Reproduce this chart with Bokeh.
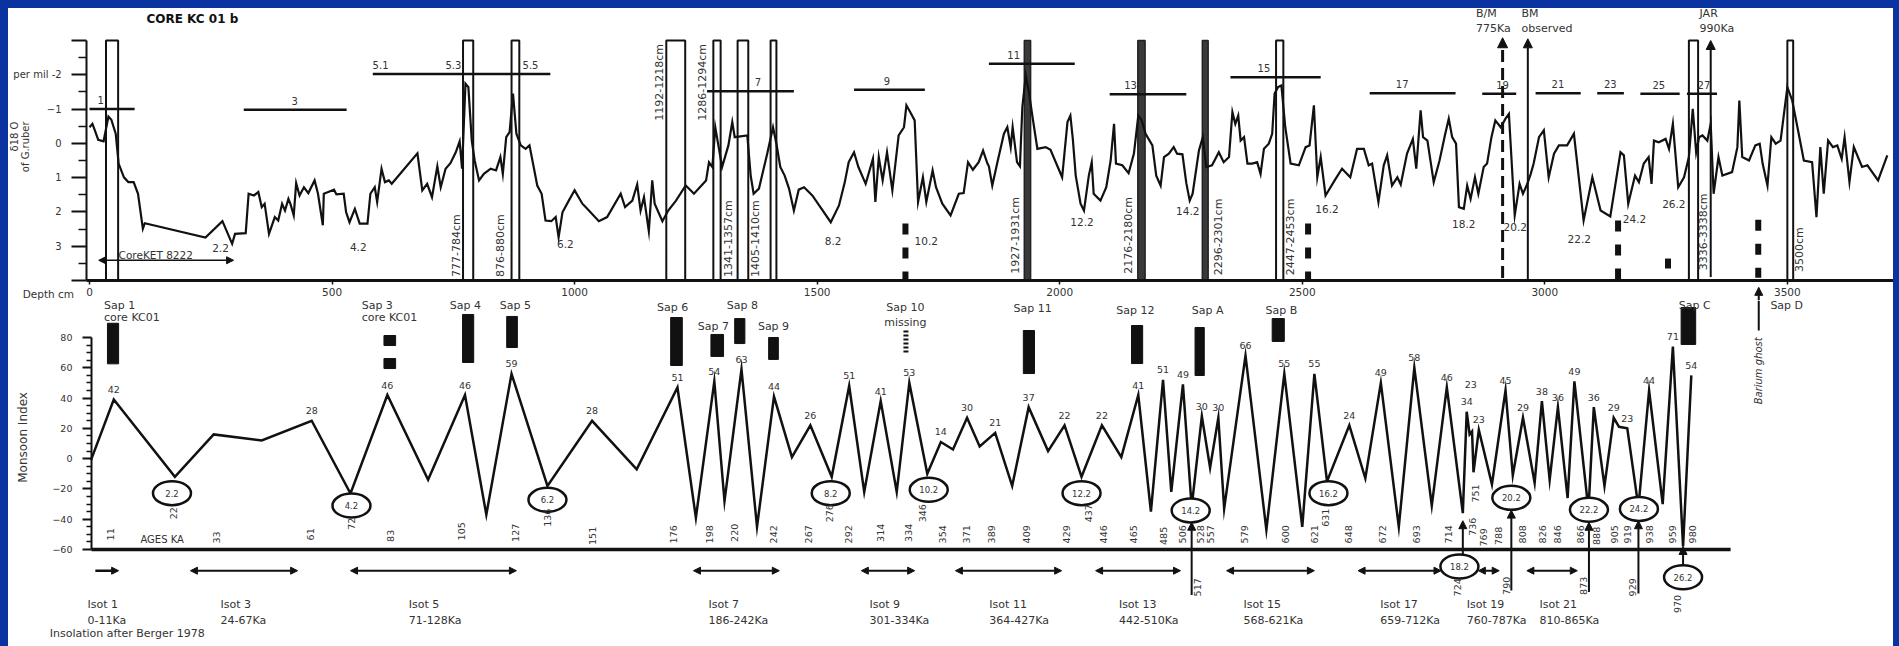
from math import pi
from bokeh.plotting import figure
from bokeh.layouts import column
from bokeh.models import (Range1d, FixedTicker, ColumnDataSource, Arrow, NormalHead,
                          LinearAxis)
from bokeh.embed import file_html
from bokeh.resources import INLINE
from bokeh.core.properties import value

FONT = "DejaVu Sans"
INK = "#111111"
TXT = "#333333"
BLUE = "#0a32a0"

# ---------------- top panel : delta 18 O of G. ruber versus core depth ----------------
d18o_depth = [
    0, 6, 11, 18, 29, 39, 45, 54, 60, 71,
    80, 91, 100, 110, 114, 239, 274, 294, 300, 322,
    328, 339, 348, 355, 361, 370, 382, 389, 397, 403,
    410, 414, 421, 426, 433, 442, 451, 464, 471, 481,
    483, 492, 504, 509, 524, 529, 536, 547, 557, 573,
    579, 588, 593, 602, 609, 617, 623, 676, 686, 696,
    706, 717, 724, 734, 744, 755, 763, 768, 775, 781,
    788, 794, 803, 813, 827, 838, 847, 852, 859, 866,
    873, 880, 889, 899, 907, 923, 932, 940, 952, 961,
    967, 975, 988, 1000, 1016, 1026, 1050, 1067, 1095, 1104,
    1119, 1129, 1136, 1143, 1153, 1160, 1165, 1181, 1193, 1209,
    1229, 1239, 1246, 1271, 1277, 1284, 1290, 1297, 1304, 1317,
    1325, 1330, 1356, 1363, 1369, 1380, 1397, 1409, 1416, 1424,
    1433, 1442, 1452, 1462, 1473, 1490, 1528, 1545, 1557, 1565,
    1576, 1585, 1600, 1615, 1620, 1627, 1635, 1644, 1655, 1668,
    1679, 1684, 1692, 1701, 1708, 1718, 1725, 1738, 1745, 1758,
    1775, 1792, 1802, 1811, 1821, 1833, 1842, 1851, 1854, 1861,
    1871, 1885, 1892, 1899, 1903, 1912, 1918, 1923, 1930, 1936,
    1945, 1954, 1971, 1981, 2005, 2016, 2022, 2027, 2033, 2043,
    2050, 2060, 2066, 2070, 2084, 2096, 2105, 2112, 2116, 2129,
    2142, 2153, 2162, 2169, 2177, 2191, 2199, 2208, 2215, 2225,
    2235, 2242, 2253, 2261, 2268, 2274, 2287, 2295, 2302, 2314,
    2328, 2338, 2349, 2356, 2362, 2368, 2373, 2380, 2387, 2397,
    2407, 2414, 2421, 2431, 2438, 2443, 2450, 2457, 2465, 2476,
    2493, 2507, 2515, 2524, 2531, 2538, 2548, 2569, 2582, 2599,
    2613, 2627, 2637, 2644, 2657, 2668, 2675, 2685, 2696, 2703,
    2716, 2728, 2735, 2744, 2749, 2758, 2771, 2783, 2794, 2802,
    2809, 2817, 2823, 2833, 2840, 2847, 2856, 2863, 2874, 2881,
    2890, 2898, 2909, 2919, 2926, 2938, 2948, 2955, 2964, 2971,
    2977, 2988, 2998, 3008, 3019, 3029, 3046, 3060, 3070, 3080,
    3098, 3115, 3135, 3156, 3163, 3172, 3186, 3194, 3204, 3214,
    3220, 3225, 3235, 3249, 3256, 3264, 3275, 3287, 3297, 3305,
    3312, 3318, 3325, 3335, 3342, 3348, 3358, 3366, 3386, 3397,
    3401, 3407, 3421, 3434, 3443, 3449, 3459, 3467, 3476, 3486,
    3500, 3510, 3522, 3534, 3551, 3560, 3568, 3575, 3584, 3594,
    3603, 3612, 3618, 3628, 3637, 3654, 3665, 3687, 3706,
]
d18o_value = [
    -0.47, -0.57, -0.38, -0.10, -0.06, -0.78, -0.69, -0.28, 0.59, 0.99,
    1.13, 1.13, 1.47, 2.49, 2.33, 2.75, 2.27, 2.93, 2.64, 2.62,
    1.47, 1.52, 1.42, 1.86, 1.76, 2.64, 2.15, 2.25, 1.76, 1.96,
    1.62, 1.76, 2.10, 1.16, 1.52, 1.28, 1.45, 1.08, 1.47, 2.39,
    1.47, 1.42, 1.35, 1.49, 1.47, 2.01, 2.30, 1.91, 2.34, 2.34,
    1.47, 1.28, 1.71, 0.74, 1.13, 1.08, 1.18, 0.29, 1.37, 1.18,
    1.57, 0.67, 1.28, 0.74, 0.58, 0.26, -0.06, 0.74, -1.74, -1.64,
    -0.08, 0.50, 1.08, 0.89, 0.74, 0.79, 0.40, 0.89, -0.18, -0.33,
    -1.45, -0.28, 0.06, 0.16, 0.06, 1.23, 1.47, 2.25, 2.27, 2.15,
    2.74, 2.01, 1.67, 1.37, 1.76, 1.91, 2.27, 2.15, 1.47, 1.86,
    1.67, 1.20, 1.96, 1.57, 2.56, 1.08, 1.76, 2.27, 1.96, 1.67,
    1.23, 1.37, 1.47, 1.08, 0.55, 0.69, -0.47, 0.11, 0.69, 0.06,
    -0.62, -0.18, -0.23, 0.94, 1.47, 1.32, 0.30, -0.47, 0.01, 0.69,
    0.94, 1.32, 1.96, 1.35, 1.28, 1.52, 2.30, 1.81, 1.13, 0.55,
    0.26, 0.69, 1.18, 0.45, 1.71, 0.40, 1.08, 0.26, 1.37, -0.23,
    -0.47, -1.11, -0.91, -0.67, 1.71, 0.99, 1.71, 0.79, 1.28, 1.76,
    2.10, 1.47, 1.45, 0.55, 0.77, 0.55, 0.21, 0.59, 0.67, 1.23,
    0.59, -0.28, -0.47, 0.11, -0.47, 0.55, 0.67, -1.06, -1.98, -1.54,
    -0.67, 0.16, 0.11, 0.19, 0.99, -0.62, -0.81, -0.13, 0.94, 1.76,
    1.96, 0.94, 0.55, 1.47, 1.67, 1.28, 0.50, -0.57, 0.59, 0.64,
    0.87, 0.30, -0.81, -0.67, -0.28, 0.06, 0.94, 1.23, 0.40, 0.30,
    0.11, 0.30, 0.32, 1.16, 1.67, 1.47, 0.21, -0.18, 0.69, 0.64,
    0.26, 0.55, 0.40, -0.91, -0.57, -0.81, -0.08, -0.18, 0.59, 0.59,
    0.55, 0.89, 0.16, 0.01, -0.28, -1.45, -1.64, -1.69, -0.47, 0.59,
    0.64, 0.11, 0.06, -1.11, 0.99, 0.40, 1.52, 1.03, 0.74, 0.99,
    0.16, 0.16, 0.64, 0.59, 1.71, 0.64, 0.35, 1.23, 0.99, 1.20,
    0.30, -0.13, 0.74, -0.96, -0.18, -0.08, 1.13, 0.50, -0.23, -0.72,
    -0.18, 0.01, 1.86, 1.91, 1.23, 1.62, 0.99, 1.47, 0.69, 0.59,
    -0.18, -0.67, -0.47, -0.72, -0.86, 2.10, 1.18, 1.47, 1.18, 0.89,
    0.59, -0.18, -0.38, 0.99, 0.30, 0.06, 0.06, -0.28, 0.99, 2.25,
    0.99, 1.96, 2.13, 0.26, 0.35, 1.76, 0.94, 1.13, 0.59, 0.40,
    1.18, -0.08, -0.03, -0.13, 0.16, -0.57, 1.28, 0.99, 0.40, -1.01,
    0.26, -0.18, -0.23, -0.08, -0.57, 1.47, 0.40, 0.94, 0.84, 0.11,
    -1.25, 0.40, 0.50, 0.06, 0.01, 0.59, 1.23, -0.18, 0.01, -0.08,
    -1.64, -1.25, -0.38, 0.50, 0.55, 2.15, 0.11, 1.47, -0.08, 0.11,
    0.06, 0.45, -0.18, 1.13, 0.11, 0.69, 0.64, 1.08, 0.35,
]
depth_ticks = [0, 500, 1000, 1500, 2000, 2500, 3000, 3500]
d18o_ticks = [-3, -2, -1, 0, 1, 2, 3, 4]
d18o_minor = [-2.5, -1.5, -0.5, 0.5, 1.5, 2.5, 3.5]

# sampled intervals (cm)
sample_lo = [34, 770, 870, 1189, 1286, 1336, 1404, 1927, 2161, 2294, 2446, 3297, 3500]
sample_hi = [59, 791, 886, 1228, 1301, 1358, 1416, 1940, 2176, 2306, 2461, 3316, 3512]
sample_dark = [False, False, False, False, False, False, False, True, True, True, False, False, False]
low_interval_text = ["777-784cm", "876-880cm", "1341-1357cm", "1405-1410cm", "1927-1931cm",
                     "2176-2180cm", "2296-2301cm", "2447-2453cm", "3336-3338cm", "3500cm"]
low_interval_depth = [757, 847, 1318, 1373, 1909, 2142, 2327, 2476, 3328, 3524]
low_interval_foot = [3.9, 3.9, 3.9, 3.9, 3.8, 3.8, 3.85, 3.85, 3.7, 3.75]
high_interval_text = ["1192-1218cm", "1286-1294cm"]
high_interval_depth = [1175, 1263]
high_interval_head = [-2.9, -2.9]

# interglacial isotope stages (horizontal bars)
stage_lo = [0, 318, 584, 1273, 1576, 1854, 2103, 2352, 2639, 2871, 2981, 3108, 3197, 3293]
stage_hi = [93, 530, 950, 1452, 1722, 2031, 2261, 2538, 2816, 2941, 3074, 3163, 3278, 3355]
stage_level = [-1.0, -0.98, -2.02, -1.52, -1.56, -2.32, -1.43, -1.93, -1.46, -1.45, -1.46,
               -1.46, -1.45, -1.45]
stage_text = ["1", "3", "5.1", "5.3", "5.5", "7", "9", "11", "13", "15", "17", "19", "21",
              "23", "25", "27"]
stage_text_depth = [23, 423, 600, 750, 909, 1378, 1644, 1905, 2146, 2421, 2706, 2913, 3027,
                    3135, 3235, 3328]
stage_text_level = [-1.0, -0.98, -2.02, -2.02, -2.02, -1.52, -1.56, -2.32, -1.43, -1.93,
                    -1.46, -1.45, -1.46, -1.46, -1.45, -1.45]

# glacial stages
glacial_text = ["2.2", "4.2", "6.2", "8.2", "10.2", "12.2", "14.2", "16.2", "18.2", "20.2",
                "22.2", "24.2", "26.2"]
glacial_depth = [270, 554, 981, 1533, 1725, 2046, 2264, 2551, 2833, 2939, 3071, 3185, 3266]
glacial_level = [3.06, 3.01, 2.93, 2.85, 2.85, 2.30, 1.96, 1.91, 2.34, 2.44, 2.78, 2.20, 1.76]

# dashed black columns
mark_depth = [1682, 2512, 3151, 3254, 3440]
mark_top = [2.34, 2.34, 2.25, 3.36, 2.23]
mark_bottom = [4.0, 4.0, 4.0, 3.65, 3.92]

# magnetic reversals and other top-panel arrows
bm_depth = 2913
bm_observed_depth = 2965
jar_depth = 3342
corekt_span = [19, 297]

# ---------------- bottom panel : monsoon index ----------------
mi_depth = [
    3, 50, 176, 256, 355, 458, 538, 614, 698, 774,
    818, 870, 944, 1036, 1128, 1212, 1250, 1288, 1309, 1344,
    1376, 1411, 1448, 1486, 1530, 1566, 1597, 1631, 1664, 1690,
    1727, 1755, 1780, 1809, 1835, 1867, 1902, 1936, 1976, 2010,
    2045, 2087, 2127, 2162, 2188, 2213, 2230, 2254, 2272, 2293,
    2310, 2327, 2339, 2383, 2426, 2463, 2500, 2525, 2551, 2597,
    2630, 2662, 2699, 2731, 2767, 2798, 2831, 2839, 2845, 2850,
    2853, 2864, 2891, 2919, 2934, 2955, 2979, 2994, 3010, 3027,
    3047, 3061, 3090, 3101, 3123, 3142, 3153, 3170, 3193, 3215,
    3243, 3264, 3285, 3302,
]
mi_value = [
    -1, 39, -12, 16, 12, 25, -23, 42, -14, 42,
    -37, 56, -18, 25, -7, 47, -39, 51, -28, 59,
    -45, 41, 1, 22, -12, 48, -22, 38, -22, 50,
    -10, 11, 6, 27, 8, 17, -18, 34, 5, 22,
    -12, 22, 1, 42, -35, 52, -22, 49, -32, 28,
    -6, 27, -33, 68, -47, 56, -45, 56, -15, 22,
    -13, 50, -45, 60, -31, 47, -36, 31, 16, 18,
    -9, 19, -17, 45, -11, 27, -16, 38, -14, 34,
    -26, 51, -34, 34, -18, 27, 21, 20, -32, 45,
    -30, 74, -58, 55,
]
mi_ticks = [-60, -40, -20, 0, 20, 40, 60, 80]
mi_minor = [-55, -50, -45, -35, -30, -25, -15, -10, -5, 5, 10, 15, 25, 30, 35, 45, 50, 55,
            65, 70, 75]
baseline_extent = [4, 3383]

peak_idx = [1, 5, 7, 9, 11, 13, 15, 17, 19, 21, 23, 25, 27, 29, 31, 33, 35, 37, 39, 41,
            43, 45, 47, 49, 51, 53, 55, 57, 59, 61, 63, 65, 67, 71, 73, 75, 77, 79, 81, 83,
            85, 87, 89, 91, 93]
peak_text = ["42", "28", "46", "46", "59", "28", "51", "54", "63", "44",
             "26", "51", "41", "53", "14", "30", "21", "37", "22", "22",
             "41", "51", "49", "30", "30", "66", "55", "55", "24", "49",
             "58", "46", "34", "23", "45", "29", "38", "36", "49", "36",
             "29", "23", "44", "71", "54"]
extra_peak_idx = [67]
extra_peak_text = ["23"]

age_text = ["11", "22", "33", "61", "72", "83", "105", "127", "136", "151", "176", "198",
            "220", "242", "267", "276", "292", "314", "334", "346", "354", "371", "389",
            "409", "429", "437", "446", "465", "485", "506", "517", "528", "557", "579",
            "600", "621", "631", "648", "672", "693", "714", "724", "736", "751", "769",
            "788", "790", "808", "826", "846", "866", "873", "888", "905", "919", "929",
            "938", "959", "970", "980"]
age_depth = [43, 173, 262, 456, 540, 620, 767, 878, 944, 1037, 1204, 1278,
             1330, 1410, 1483, 1525, 1565, 1631, 1688, 1717, 1758, 1808, 1859,
             1932, 2014, 2059, 2091, 2152, 2214, 2253, 2284, 2290, 2310, 2381,
             2465, 2525, 2547, 2595, 2665, 2735, 2801, 2820, 2850, 2858, 2873,
             2904, 2920, 2953, 2996, 3026, 3073, 3079, 3106, 3143, 3170, 3180,
             3215, 3263, 3273, 3304]
age_level = [-50, -36, -52, -50, -43, -51, -48, -49, -39, -51, -50, -50,
             -49, -50, -50, -36, -50, -49, -49, -36, -50, -50, -50,
             -50, -50, -36, -50, -50, -51, -50, -85, -50, -50, -50,
             -50, -50, -39, -50, -50, -50, -50, -85, -45, -23, -52,
             -51, -84, -50, -50, -50, -50, -84, -51, -50, -50, -85,
             -50, -50, -96, -50]

ellipse_text = ["2.2", "4.2", "6.2", "8.2", "10.2", "12.2", "14.2", "16.2", "18.2", "20.2",
                "22.2", "24.2", "26.2"]
ellipse_depth = [170, 540, 944, 1528, 1730, 2045, 2270, 2554, 2824, 2931, 3091, 3194, 3285]
ellipse_level = [-22.8, -31, -27.2, -22.8, -20.6, -22.8, -34.2, -22.8, -71.2, -25.9, -33.8,
                 -33.2, -78.3]

up_arrow_depth = [2272, 2831, 2931, 3091, 3193, 3285]
up_arrow_from = [-90, -63, -87, -88, -89, -70]
up_arrow_to = [-42, -41, -34, -42, -41, -58]

# black sample bars
bar_lo = [37, 769, 860, 1198, 1281, 1330, 1400, 1925, 2148, 2279, 2438, 3281, 607, 607]
bar_hi = [60, 792, 882, 1222, 1307, 1351, 1420, 1948, 2171, 2298, 2463, 3311, 631, 631]
bar_top = [89.4, 95.2, 93.9, 93.2, 82, 92.5, 80, 84.6, 87.9, 86.6, 92.5, 99.8, 81.3, 66.1]
bar_bottom = [62.6, 63.5, 73.4, 61.5, 67.5, 76, 65.5, 56.2, 62.8, 54.9, 77.4, 75.4, 74.7, 59.5]
missing_depth = [1683]
missing_span = [70.1, 84.6]

sap_left_text = ["Sap 1", "core KC01", "Sap 3", "core KC01", "Sap D"]
sap_left_depth = [30, 30, 561, 561, 3465]
sap_left_level = [101.1, 93.2, 101.1, 93.2, 101.1]
sap_text = ["Sap 4", "Sap 5", "Sap 6", "Sap 7", "Sap 8", "Sap 9", "Sap 10", "missing",
            "Sap 11", "Sap 12", "Sap A", "Sap B", "Sap C"]
sap_depth = [775, 878, 1202, 1286, 1346, 1410, 1682, 1682, 1944, 2156, 2305, 2457, 3309]
sap_level = [101.1, 101.1, 99.8, 87.3, 101.1, 87.3, 99.8, 89.9, 99.2, 97.8, 97.8, 97.8, 101.1]

isot_name = ["Isot 1", "Isot 3", "Isot 5", "Isot 7", "Isot 9", "Isot 11", "Isot 13",
             "Isot 15", "Isot 17", "Isot 19", "Isot 21"]
isot_range = ["0-11Ka", "24-67Ka", "71-128Ka", "186-242Ka", "301-334Ka", "364-427Ka",
              "442-510Ka", "568-621Ka", "659-712Ka", "760-787Ka", "810-865Ka"]
isot_lo = [12, 208, 538, 1245, 1591, 1785, 2074, 2344, 2615, 2863, 2963]
isot_hi = [60, 429, 880, 1422, 1701, 2004, 2249, 2525, 2786, 2906, 3067]
isot_text_depth = [-4, 270, 658, 1276, 1608, 1855, 2122, 2379, 2661, 2839, 2989]
isot_arrow_level = -74.0
isot_name_level = -96.3
isot_range_level = -106.9

barium_depth = 3441
barium_span = [84.6, 104.4]


def add_text(p, xs, ys, texts, size="11px", align="center", baseline="middle", angle=0.0,
             color=TXT, style="normal", x_offset=0, y_offset=0):
    src = ColumnDataSource(data=dict(x=list(xs), y=list(ys), t=list(texts)))
    p.text(x="x", y="y", text="t", source=src, text_font=value(FONT),
           text_font_size=value(size), text_align=align, text_baseline=baseline,
           angle=angle, text_color=color, text_font_style=style,
           x_offset=x_offset, y_offset=y_offset)


def head(size=8):
    return NormalHead(size=size, fill_color=INK, line_color=INK, line_width=1)


def style_axis(ax, tick_out, minor_out, label_size, standoff, line_width=2):
    ax.axis_line_width = line_width
    ax.axis_line_color = INK
    ax.major_tick_out = tick_out
    ax.major_tick_in = 0
    ax.minor_tick_out = minor_out
    ax.minor_tick_in = 0
    ax.major_tick_line_width = 2
    ax.minor_tick_line_width = 1.5
    ax.major_tick_line_color = INK
    ax.minor_tick_line_color = INK
    ax.major_label_standoff = standoff
    ax.major_label_text_font = FONT
    ax.major_label_text_font_size = label_size
    ax.major_label_text_color = TXT


# shared depth range: frame spans the whole white width
xr = Range1d(-167.0, 3718.8)

# ======================= TOP FIGURE =======================
top = figure(width=1885, height=292, x_range=xr, y_range=Range1d(4.5833, -3.9333),
             x_axis_location=None, y_axis_location=None,
             output_backend="svg", toolbar_location=None, min_border=0,
             outline_line_color=None, background_fill_color="white",
             border_fill_color="white")
top.grid.visible = False

ya = LinearAxis(fixed_location=-6, ticker=FixedTicker(ticks=d18o_ticks, minor_ticks=d18o_minor),
                bounds=(d18o_ticks[0], d18o_ticks[-1]))
ya.major_label_overrides = {-3: "", 4: "", -2: "per mil -2"}
style_axis(ya, 15, 8, "10px", 10)
top.add_layout(ya, "left")

xa = LinearAxis(fixed_location=d18o_ticks[-1], ticker=FixedTicker(ticks=depth_ticks, minor_ticks=[]),
                bounds=(-6, 3718.8))
style_axis(xa, 4, 0, "10.5px", 3, line_width=3)
xa.major_tick_line_width = 1.5
top.add_layout(xa, "below")

open_lo = [a for a, d in zip(sample_lo, sample_dark) if not d]
open_hi = [b for b, d in zip(sample_hi, sample_dark) if not d]
dark_lo = [a for a, d in zip(sample_lo, sample_dark) if d]
dark_hi = [b for b, d in zip(sample_hi, sample_dark) if d]
top.quad(left=open_lo, right=open_hi, top=d18o_ticks[0], bottom=d18o_ticks[-1],
         fill_alpha=0, line_color=INK, line_width=2)
top.quad(left=dark_lo, right=dark_hi, top=d18o_ticks[0], bottom=d18o_ticks[-1],
         fill_color="#3a3a3a", line_color="#222222", line_width=1.5)

top.segment(x0=stage_lo, y0=stage_level, x1=stage_hi, y1=stage_level,
            line_color=INK, line_width=2.5)
top.segment(x0=mark_depth, y0=mark_top, x1=mark_depth, y1=mark_bottom,
            line_color=INK, line_width=6, line_dash="11 13", line_cap="butt")

top.line(d18o_depth, d18o_value, line_color=INK, line_width=2.2, line_join="miter")

top.add_layout(Arrow(end=head(10), x_start=bm_depth, y_start=3.93, x_end=bm_depth,
                     y_end=-3.08, line_color=INK, line_width=3, line_dash="12 6"))
top.add_layout(Arrow(end=head(9), x_start=bm_observed_depth, y_start=4.0,
                     x_end=bm_observed_depth, y_end=-3.05, line_color=INK, line_width=2))
top.add_layout(Arrow(end=head(9), x_start=jar_depth, y_start=3.9, x_end=jar_depth,
                     y_end=-3.0, line_color=INK, line_width=2))
top.add_layout(Arrow(start=head(7), end=head(7), x_start=corekt_span[0], y_start=3.41,
                     x_end=corekt_span[1], y_end=3.41, line_color=INK, line_width=1.5))
top.add_layout(Arrow(end=head(8), x_start=barium_depth, y_start=4.58, x_end=barium_depth,
                     y_end=4.2, line_color=INK, line_width=2))

add_text(top, [212], [-3.64], ["CORE KC 01 b"], size="12px", color=INK, style="bold")
add_text(top, low_interval_depth, low_interval_foot, low_interval_text, size="11px",
         angle=pi / 2, align="left")
add_text(top, high_interval_depth, high_interval_head, high_interval_text, size="11px",
         angle=pi / 2, align="right")
add_text(top, stage_text_depth, stage_text_level, stage_text, size="10px", y_offset=-9)
add_text(top, glacial_depth, glacial_level, glacial_text, size="10.5px")
add_text(top, [60], [3.27], ["CoreKET 8222"], size="10.5px", align="left")
add_text(top, [2858, 2858, 2952, 2952, 3319, 3319], [-3.79, -3.35] * 3,
         ["B/M", "775Ka", "BM", "observed", "JAR", "990Ka"], size="11px", align="left")
add_text(top, [-32], [4.38], ["Depth cm"], size="10.5px", align="right")
add_text(top, [-155, -132], [-0.2, 0.1], ["δ18 O", "of G.ruber"], size="10px",
         angle=pi / 2)

# ======================= BOTTOM FIGURE =======================
bot = figure(width=1885, height=346, x_range=xr, y_range=Range1d(-124.06, 104.43),
             x_axis_location=None, y_axis_location=None,
             output_backend="svg", toolbar_location=None, min_border=0,
             outline_line_color=None, background_fill_color="white",
             border_fill_color="white")
bot.grid.visible = False

yb = LinearAxis(fixed_location=4, ticker=FixedTicker(ticks=mi_ticks, minor_ticks=mi_minor),
                bounds=(mi_ticks[0], mi_ticks[-1]))
style_axis(yb, 9, 5, "9.5px", 10)
bot.add_layout(yb, "left")

bot.line(baseline_extent, [mi_ticks[0]] * 2, line_color=INK, line_width=3.5)
bot.line(mi_depth, mi_value, line_color=INK, line_width=2.5, line_join="miter")

bot.quad(left=bar_lo, right=bar_hi, top=bar_top, bottom=bar_bottom,
         fill_color=INK, line_color=INK)
bot.segment(x0=missing_depth, y0=[missing_span[0]], x1=missing_depth, y1=[missing_span[1]],
            line_color=INK, line_width=5, line_dash="2 2", line_cap="butt")
bot.segment(x0=[barium_depth], y0=[barium_span[0]], x1=[barium_depth], y1=[barium_span[1]],
            line_color=INK, line_width=2)

bot.ellipse(x=ellipse_depth, y=ellipse_level, width=38, height=24, width_units="screen",
            height_units="screen", fill_color="white", line_color=INK, line_width=2.5)
add_text(bot, ellipse_depth, ellipse_level, ellipse_text, size="8.5px")

add_text(bot, [mi_depth[i] for i in peak_idx], [mi_value[i] for i in peak_idx], peak_text,
         size="9.5px", y_offset=-10)
add_text(bot, [mi_depth[i] for i in extra_peak_idx], [mi_value[i] for i in extra_peak_idx],
         extra_peak_text, size="9.5px", y_offset=-27, x_offset=4)

add_text(bot, age_depth, age_level, age_text, size="9.5px", angle=pi / 2)
add_text(bot, [105], [-53.4], ["AGES KA"], size="10px", align="left")

add_text(bot, sap_left_depth, sap_left_level, sap_left_text, size="11px", align="left")
add_text(bot, sap_depth, sap_level, sap_text, size="11px")

add_text(bot, isot_text_depth, [isot_name_level] * len(isot_name), isot_name, size="11px",
         align="left")
add_text(bot, isot_text_depth, [isot_range_level] * len(isot_range), isot_range,
         size="11px", align="left")
add_text(bot, [barium_depth], [58], ["Barium ghost"], size="10px", angle=pi / 2,
         style="italic")
add_text(bot, [-82], [-115.5], ["Insolation after Berger 1978"], size="11px", align="left")
add_text(bot, [-138], [14], ["Monsoon Index"], size="12px", angle=pi / 2)

iso_src = ColumnDataSource(data=dict(x0=isot_lo[1:], x1=isot_hi[1:],
                                     y=[isot_arrow_level] * (len(isot_lo) - 1)))
bot.add_layout(Arrow(start=head(7), end=head(7), x_start="x0", y_start="y", x_end="x1",
                     y_end="y", source=iso_src, line_color=INK, line_width=2))
bot.add_layout(Arrow(end=head(7), x_start=isot_lo[0], y_start=isot_arrow_level,
                     x_end=isot_hi[0], y_end=isot_arrow_level, line_color=INK,
                     line_width=2.5))
up_src = ColumnDataSource(data=dict(x=up_arrow_depth, y0=up_arrow_from, y1=up_arrow_to))
bot.add_layout(Arrow(end=head(8), x_start="x", y_start="y0", x_end="x", y_end="y1",
                     source=up_src, line_color=INK, line_width=2))

layout = column(top, bot)
html = file_html(layout, INLINE, title="Core KC 01 b")
style = ("<style>html{margin:0;padding:0;overflow:hidden;background:%s;}"
         "body{margin:8px 0 0 8px;padding:0;background:#ffffff;width:1885px;height:638px;"
         "overflow:hidden;}</style>" % BLUE)
html = html.replace("</head>", style + "</head>", 1)
with open("out.html", "w") as f:
    f.write(html)
